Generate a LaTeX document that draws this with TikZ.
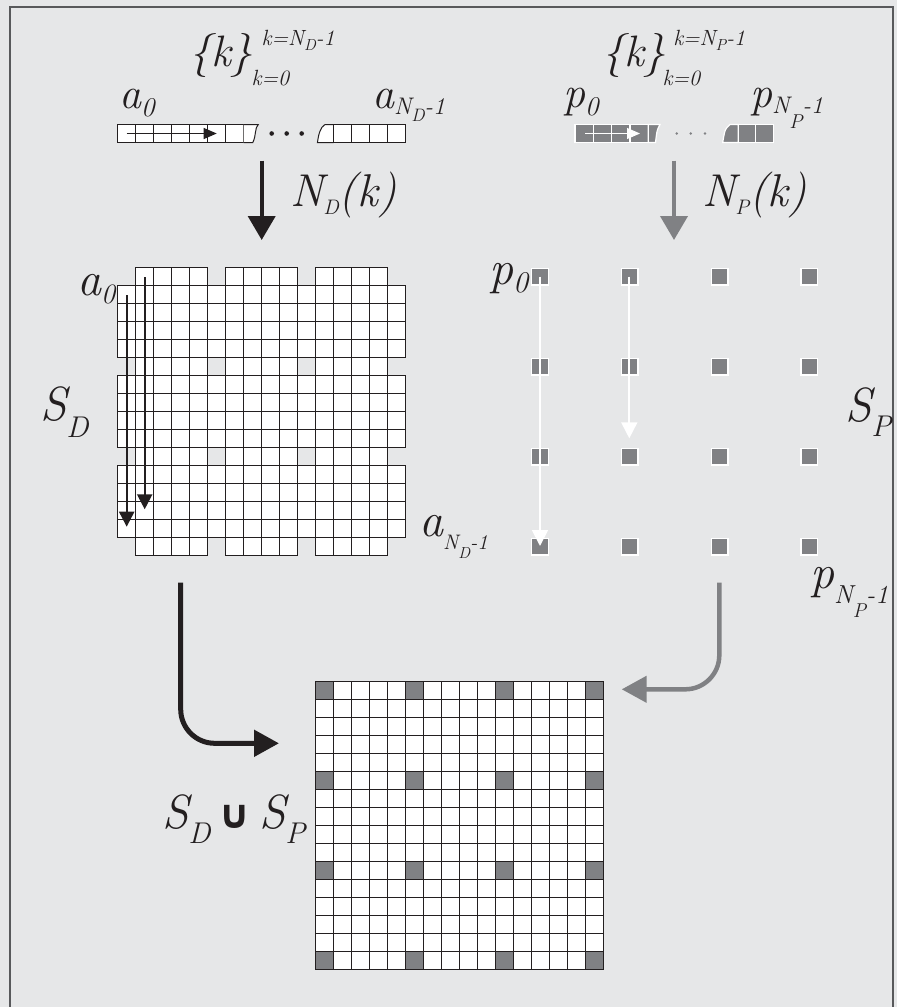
\documentclass[tikz,border=0pt]{standalone}
\usepackage{fontspec}
\usetikzlibrary{arrows.meta}
\newfontfamily\djv{DejaVu Sans}
\definecolor{bg}{HTML}{E6E7E8}
\definecolor{pg}{HTML}{808184}
\definecolor{ink}{HTML}{231F20}
\definecolor{frm}{HTML}{58595B}
\newcommand\fs[1]{\fontsize{#1}{#1}\selectfont}
\tikzset{
  cell/.style={draw=ink, fill=white, line width=1pt},
  pcell/.style={draw=ink, fill=pg, line width=1pt},
  pil/.style={draw=white, fill=pg, line width=1.4pt},
  scell/.style={draw=white, fill=pg, line width=1.2pt},
  lbl/.style={inner sep=0pt, outer sep=0pt, anchor=base west, font=\itshape, text=ink},
  bigarrow/.style={line width=4pt, -{Triangle[width=27pt,length=24pt]}},
  curvearrow/.style={line width=5pt, rounded corners=34pt, -{Triangle[width=26pt,length=25pt]}},
  inarrow/.style={draw=ink, line width=2.2pt, -{Triangle[width=15pt,length=15pt]}},
  parrow/.style={draw=white, line width=1.8pt, -{Triangle[width=16pt,length=16pt]}},
  sarrow/.style={line width=1pt, -{Triangle[width=11pt,length=13pt]}},
  frame/.style={draw=frm, line width=2.4pt}
}
\begin{document}
\begin{tikzpicture}[x=1pt,y=-1pt]
\useasboundingbox (0,0) rectangle (897,1007);
\fill[bg] (0,0) rectangle (897,1007);
\draw[frame] (9.7,1010) -- (9.7,7) -- (893,7) -- (893,1010);

% ---------- data strip ----------
\foreach \c in {0,...,6} \draw[cell] ({117.7+18*\c},124.5) rectangle ++(18,18);
\draw[cell] (243.7,124.5) -- (258.3,124.5) .. controls (254.5,128) and (256.5,135) .. (252.8,142.5) -- (243.7,142.5);
\draw[cell] (333.7,124.5) -- (325,124.5) .. controls (320.5,127) and (318.5,134) .. (317.5,142.5) -- (333.7,142.5);
\foreach \c in {12,...,15} \draw[cell] ({117.7+18*\c},124.5) rectangle ++(18,18);
\foreach \x in {271.7,286.7,301.7} \fill[ink] (\x,133.5) circle (2.3);
\coordinate (dsA) at (126.7,133.5);
\coordinate (dsB) at (216.7,133.5);
\draw[sarrow, draw=ink] (dsA) -- (dsB);

% ---------- pilot strip ----------
\foreach \c in {0,...,3} \draw[scell] ({575+18.33*\c},124.5) rectangle ++(18.33,18);
\draw[scell] (648.3,124.5) -- (660,124.5) .. controls (657,130) .. (655.5,142.5) -- (648.3,142.5) -- cycle;
\draw[scell] (738.3,124.5) -- (730,124.5) .. controls (725,129) .. (722.7,142.5) -- (738.3,142.5) -- cycle;
\foreach \c in {0,1} \draw[scell] ({738.3+17.5*\c},124.5) rectangle ++(17.5,18);
\foreach \x in {676.7,690.7,705} \fill[pg] (\x,133.5) circle (1.3);
\coordinate (psA) at (585,133.5);
\coordinate (psB) at (640,133.5);
\draw[sarrow, draw=white] (psA) -- (psB);

% ---------- top labels ----------
\node[lbl] (kD) at (189,66) {\fs{44}\{k\}};
\node[lbl] (kDsup) at (261.7,45) {\fs{22}k=N\raisebox{-5pt}{\fs{16}D}-1};
\node[lbl] (kDsub) at (251.7,85) {\fs{22}k=0};
\node[lbl] (kP) at (602,66) {\fs{44}\{k\}};
\node[lbl] (kPsup) at (673.3,45) {\fs{22}k=N\raisebox{-5pt}{\fs{16}P}-1};
\node[lbl] (kPsub) at (662.7,85) {\fs{22}k=0};
\node[lbl] (a0top) at (119,108.5) {\fs{44}a\raisebox{-8pt}{\fs{27}0}};
\node[lbl] (aNtop) at (372,108.5) {\fs{44}a\raisebox{-6pt}{\fs{24}N\raisebox{-7pt}{\fs{18}D}-1}};
\node[lbl] (p0top) at (563,107) {\fs{44}p\raisebox{-8pt}{\fs{27}0}};
\node[lbl] (pNtop) at (750,107) {\fs{44}p\raisebox{-6pt}{\fs{24}N\raisebox{-15pt}{\fs{20}P}-1}};

% ---------- vertical arrows ----------
\coordinate (ndA) at (261.7,160.7);
\coordinate (ndB) at (261.7,240);
\draw[bigarrow, draw=ink] (ndA) -- (ndB);
\node[lbl] (NDk) at (290,206.7) {\fs{46}N\raisebox{-8pt}{\fs{21}D}(k)};
\coordinate (npA) at (674,160.7);
\coordinate (npB) at (674,240);
\draw[bigarrow, draw=pg] (npA) -- (npB);
\node[lbl] (NPk) at (702,206.7) {\fs{46}N\raisebox{-8pt}{\fs{21}P}(k)};

% ---------- S_D grid ----------
\foreach \r in {0,...,15}{\foreach \c in {0,...,15}{%
  \pgfmathtruncatemacro\pil{(mod(\r,5)==0)*(mod(\c,5)==0)}%
  \ifnum\pil=0 \draw[cell] ({117.7+18*\c},{267.7+18*\r}) rectangle ++(18,18);\fi
}}
\coordinate (dgA1) at (126.7,295);
\coordinate (dgB1) at (126.7,526.7);
\coordinate (dgA2) at (144.7,277.3);
\coordinate (dgB2) at (144.7,509.3);
\draw[inarrow] (dgA1) -- (dgB1);
\draw[inarrow] (dgA2) -- (dgB2);
\node[lbl] (a0g) at (77,295) {\fs{48}a\raisebox{-8pt}{\fs{28}0}};
\node[lbl] (SD) at (40,420) {\fs{48}S\raisebox{-17pt}{\fs{30}D}};
\node[lbl] (aNg) at (419,536.7) {\fs{48}a\raisebox{-13pt}{\fs{21}N\raisebox{-9pt}{\fs{16}D}-1}};

% ---------- S_P grid ----------
\foreach \i in {0,...,3}{\foreach \j in {0,...,3}{%
  \draw[pil] ({531.75+89.8*\i},{268.45+90*\j}) rectangle ++(16.5,16.5);
}}
\coordinate (pgA1) at (540,276.7);
\coordinate (pgB1) at (540,546);
\coordinate (pgA2) at (629.3,276.7);
\coordinate (pgB2) at (629.3,438.3);
\draw[parrow] (pgA1) -- (pgB1);
\draw[parrow] (pgA2) -- (pgB2);
\node[lbl] (p0g) at (489,284) {\fs{48}p\raisebox{-8pt}{\fs{30}0}};
\node[lbl] (SP) at (845,421.7) {\fs{48}S\raisebox{-15pt}{\fs{30}P}};
\node[lbl] (pNg) at (810,588) {\fs{48}p\raisebox{-15pt}{\fs{26}N\raisebox{-14pt}{\fs{20}P}-1}};

% ---------- curved arrows ----------
\coordinate (cdA) at (180.7,582.7);
\coordinate (cdB) at (279,743.3);
\draw[curvearrow, draw=ink] (cdA) |- (cdB);
\coordinate (cpA) at (719.3,582.7);
\coordinate (cpB) at (621.7,689.3);
\draw[curvearrow, draw=pg, line width=4.5pt] (cpA) |- (cpB);

% ---------- union grid ----------
\foreach \r in {0,...,15}{\foreach \c in {0,...,15}{%
  \pgfmathtruncatemacro\pil{(mod(\r,5)==0)*(mod(\c,5)==0)}%
  \ifnum\pil=0 \draw[cell] ({315+18*\c},{681+18*\r}) rectangle ++(18,18);
  \else \draw[pcell] ({315+18*\c},{681+18*\r}) rectangle ++(18,18);\fi
}}
\node[lbl] (union) at (162,828) {\fs{48}S\raisebox{-15pt}{\fs{30}D}\,{\upshape\djv\bfseries\fs{40}∪}\,S\raisebox{-15pt}{\fs{30}P}};
\end{tikzpicture}
\end{document}
